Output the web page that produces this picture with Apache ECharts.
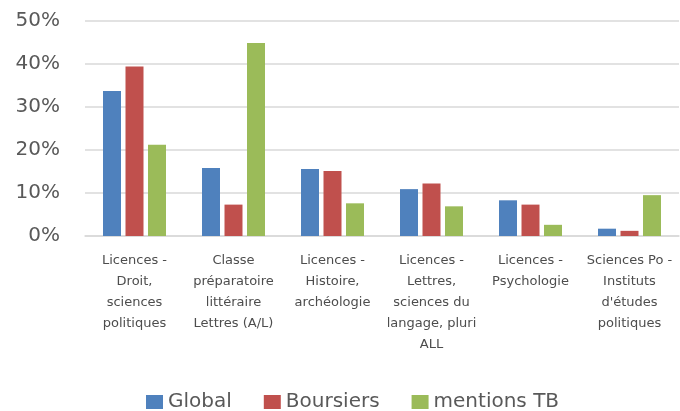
<!DOCTYPE html>
<html>
<head>
<meta charset="utf-8">
<script src="https://cdn.jsdelivr.net/npm/echarts@6/dist/echarts.min.js"></script>
<style>
  html, body { margin: 0; padding: 0; background: #fff; }
  #chart { width: 680px; height: 411px; }
</style>
</head>
<body>
<div id="chart"></div>
<script>
// données (en %)
var categories = [
    'Licences -\nDroit,\nsciences\npolitiques',
    'Classe\npréparatoire\nlittéraire\nLettres (A/L)',
    'Licences -\nHistoire,\narchéologie',
    'Licences -\nLettres,\nsciences du\nlangage, pluri\nALL',
    'Licences -\nPsychologie',
    'Sciences Po -\nInstituts\nd\'études\npolitiques'
];
var seriesNames = ['Global', 'Boursiers', 'mentions TB'];
var globalVals    = [33.7, 15.8, 15.6, 10.9, 8.3, 1.7];
var boursiersVals = [39.4, 7.3, 15.1, 12.2, 7.3, 1.2];
var mentionsVals  = [21.2, 44.9, 7.6, 6.9, 2.6, 9.5];
var colors = ['#4F81BD', '#C0504D', '#9BBB59'];

var font = '"DejaVu Sans", sans-serif';
var txt = '#595959';

var chart = echarts.init(document.getElementById('chart'));

function bar(name, data, i) {
    return {
        name: name,
        type: 'bar',
        data: data,
        barWidth: 18,
        barGap: '25%',
        itemStyle: { color: colors[i] }
    };
}

var option = {
    animation: false,
    grid: { left: 85, right: 1, top: 21, bottom: 175 },
    legend: {
        data: seriesNames,
        left: 141,
        top: 387,
        icon: 'rect',
        itemWidth: 17,
        itemHeight: 14,
        itemGap: 32,
        textStyle: { fontFamily: font, fontSize: 20, color: txt }
    },
    xAxis: {
        type: 'category',
        data: categories,
        axisTick: { show: false },
        axisLine: { lineStyle: { color: '#d9d9d9', width: 1.5 } },
        axisLabel: {
            interval: 0,
            margin: 14,
            fontFamily: font,
            fontSize: 13,
            lineHeight: 21,
            color: '#4d4d4d',
            align: 'center'
        }
    },
    yAxis: {
        type: 'value',
        min: 0,
        max: 50,
        interval: 10,
        axisLine: { show: false },
        axisTick: { show: false },
        splitLine: { lineStyle: { color: '#d9d9d9', width: 1.5 } },
        axisLabel: {
            formatter: '{value}%',
            margin: 25,
            fontFamily: font,
            fontSize: 20,
            color: txt
        }
    },
    series: [
        bar(seriesNames[0], globalVals, 0),
        bar(seriesNames[1], boursiersVals, 1),
        bar(seriesNames[2], mentionsVals, 2)
    ]
};
chart.setOption(option);
</script>
</body>
</html>
